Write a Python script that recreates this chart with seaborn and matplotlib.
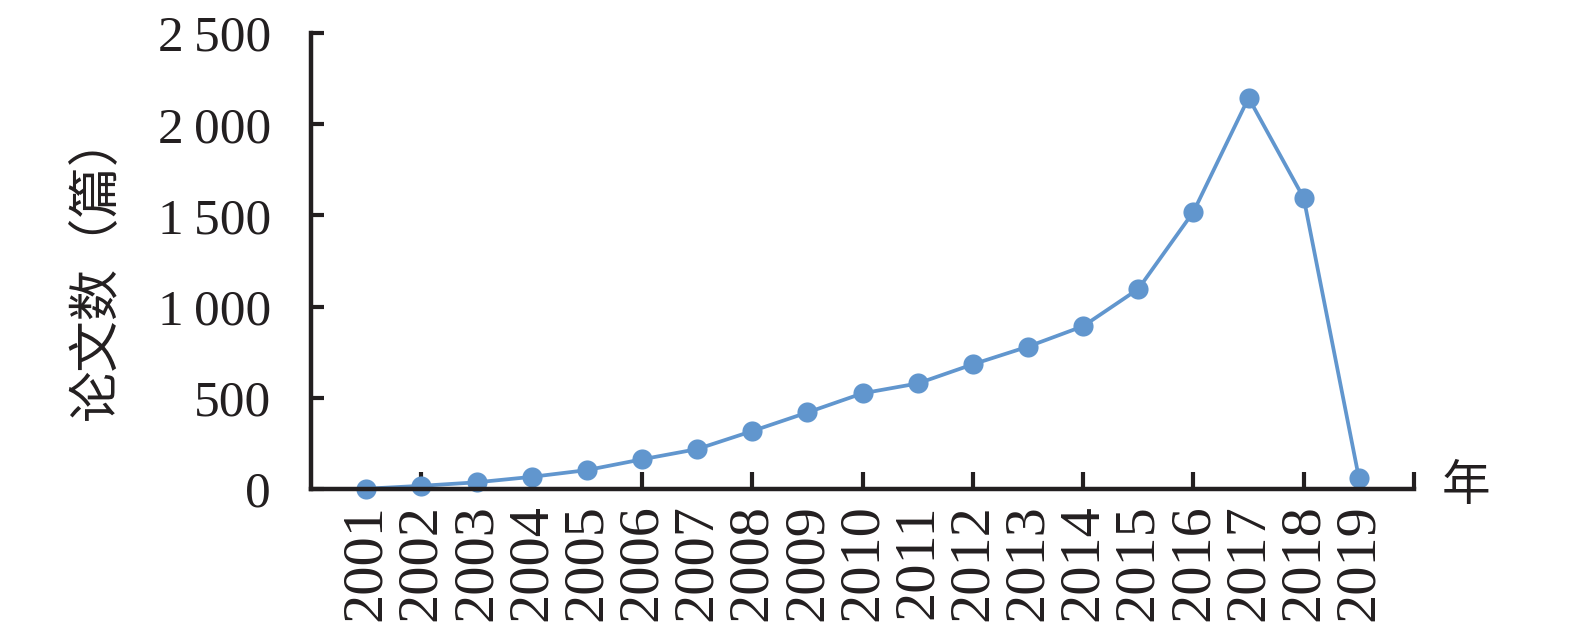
import numpy as np
import pandas as pd
import matplotlib
matplotlib.use("Agg")
import matplotlib.pyplot as plt
import seaborn as sns
from matplotlib.ticker import FixedLocator, FuncFormatter

# data
years = ["2001", "2002", "2003", "2004", "2005", "2006", "2007", "2008", "2009", "2010",
         "2011", "2012", "2013", "2014", "2015", "2016", "2017", "2018", "2019"]
papers = [2, 18, 37, 67, 104, 163, 219, 318, 420, 525,
          579, 684, 781, 893, 1097, 1520, 2145, 1595, 62]
y_ticks = [0, 500, 1000, 1500, 2000, 2500]

df = pd.DataFrame({"pos": np.arange(len(years)), "year": years, "papers": papers})

sns.set_theme(style="white")
plt.rcParams["font.family"] = ["Liberation Serif", "Noto Sans CJK SC", "DejaVu Sans"]

ink = "#231f20"
blue = "#6196CE"

fig = plt.figure(figsize=(15.75, 6.36), dpi=100)
ax = fig.add_axes([0.1975, 0.231, 0.7003, 0.717])

sns.lineplot(data=df, x="pos", y="papers", ax=ax, color=blue, linewidth=2.7,
             marker="o", markersize=14.5, markeredgewidth=0, clip_on=False)

ax.set_xlim(-1, len(years))
ax.set_ylim(0, 2500)

# y axis
ax.yaxis.set_major_locator(FixedLocator(y_ticks))
ax.yaxis.set_major_formatter(FuncFormatter(lambda v, p: f"{int(v):,}".replace(",", "\u2009")))
ax.tick_params(axis="y", which="major", direction="in", length=9, width=3, color=ink,
               labelsize=37, labelcolor=ink, pad=29, left=True)

# x axis: labels under each point, tick marks between every other category
ax.xaxis.remove_overlapping_locs = False
ax.set_xticks(df["pos"])
ax.set_xticklabels(years, rotation=90)
ax.xaxis.set_minor_locator(FixedLocator(np.arange(1, len(years) + 1, 2)))
ax.tick_params(axis="x", which="major", length=0, labelsize=42, labelcolor=ink, pad=11, bottom=True)
ax.tick_params(axis="x", which="minor", direction="in", length=12, width=3, color=ink, bottom=True)

for side in ["top", "right"]:
    ax.spines[side].set_visible(False)
for side in ["left", "bottom"]:
    ax.spines[side].set_color(ink)
    ax.spines[side].set_linewidth(3.2)
    ax.spines[side].set_capstyle("projecting")

ax.set_xlabel("")
ax.set_ylabel("")
ax.grid(False)

fig.text(0.061, 0.582, "论文数（篇）", rotation=90, ha="center", va="center",
         fontsize=37, color=ink, family=["Noto Sans CJK SC", "DejaVu Sans"])
fig.text(0.931, 0.236, "年", ha="center", va="center",
         fontsize=35, color=ink, family=["Noto Sans CJK SC", "DejaVu Sans"])

plt.savefig("out.png", dpi=100)
